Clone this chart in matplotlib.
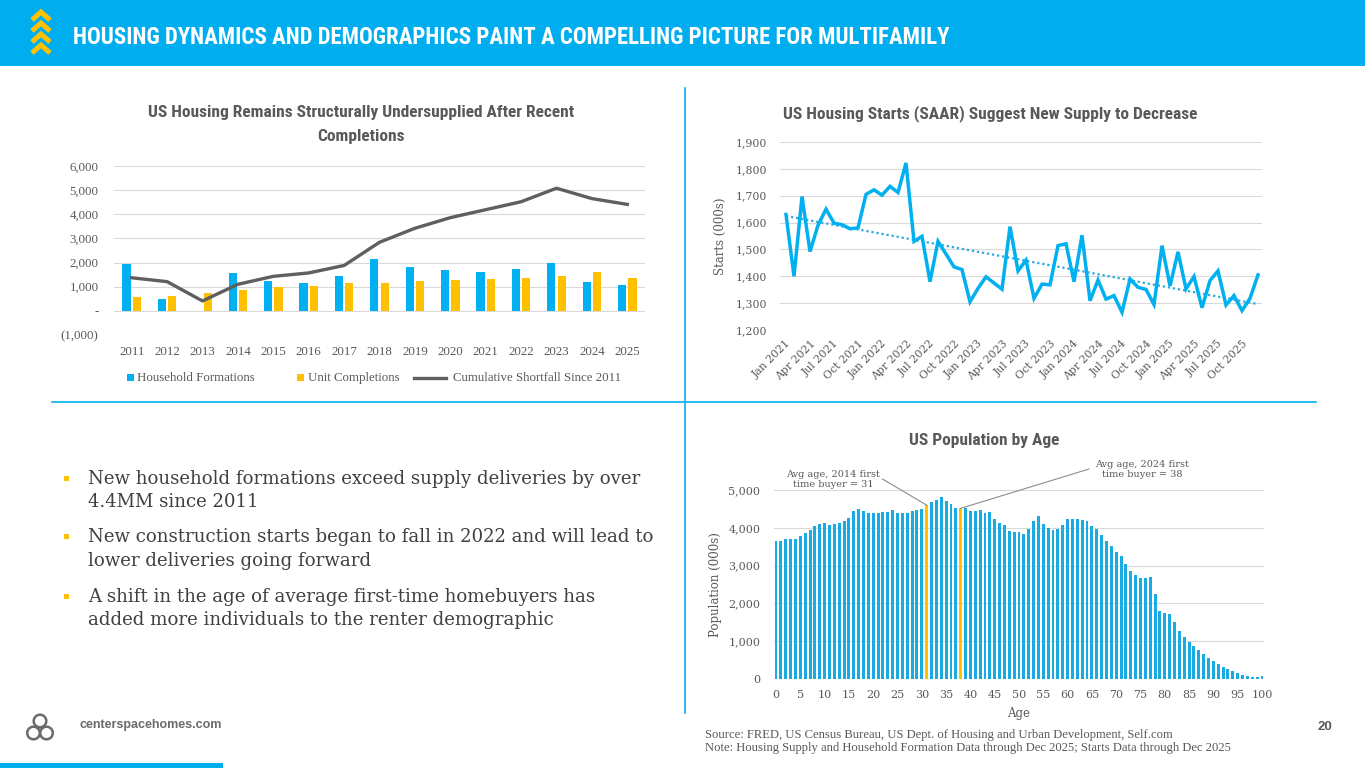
import matplotlib
matplotlib.use("Agg")
import matplotlib.pyplot as plt
import numpy as np
from matplotlib import font_manager
from matplotlib.patches import Rectangle, Circle

BLUE = "#00AEEF"
BAR_BLUE = "#00B0F0"
POP_BLUE = "#1AABE2"
GOLD = "#FFC000"
GRAY = "#595959"
TEXT = "#404040"
GRID = "#D9D9D9"

installed = {f.name for f in font_manager.fontManager.ttflist}


def pick(*names):
    for n in names:
        if n in installed:
            return n
    return "DejaVu Sans"


COND = pick("Liberation Sans Narrow", "Roboto Condensed", "DejaVu Sans")
SERIF = pick("Liberation Serif", "DejaVu Serif")
SERIF2 = pick("DejaVu Serif", "Liberation Serif")
SANS = pick("Liberation Sans", "DejaVu Sans")

#---------------------------------------
# Data
#---------------------------------------
years = [2011, 2012, 2013, 2014, 2015, 2016, 2017, 2018, 2019, 2020, 2021, 2022, 2023, 2024, 2025]
household_formations = [1930, 510, 0, 1570, 1240, 1170, 1460, 2150, 1830, 1710, 1630, 1720, 1990, 1210, 1090]
unit_completions = [580, 630, 760, 870, 980, 1050, 1140, 1170, 1240, 1280, 1340, 1380, 1430, 1610, 1350]
cumulative_shortfall = [1370, 1210, 410, 1100, 1430, 1570, 1880, 2840, 3420, 3860, 4190, 4520, 5080, 4650, 4410]
shortfall_ticks = [-1000, 0, 1000, 2000, 3000, 4000, 5000, 6000]
shortfall_tick_labels = ["(1,000)", "-", "1,000", "2,000", "3,000", "4,000", "5,000", "6,000"]

# monthly housing starts, Jan 2021 - Dec 2025 (000s, SAAR)
housing_starts = [1630, 1400, 1697, 1492, 1590, 1650, 1598, 1592, 1577, 1580, 1705, 1722,
                  1702, 1735, 1712, 1822, 1530, 1549, 1380, 1530, 1483, 1435, 1425, 1305,
                  1355, 1398, 1375, 1352, 1585, 1420, 1460, 1318, 1371, 1368, 1514, 1521,
                  1380, 1553, 1309, 1386, 1315, 1328, 1266, 1390, 1359, 1351, 1295, 1514,
                  1364, 1491, 1353, 1399, 1283, 1384, 1420, 1293, 1328, 1272, 1318, 1405]
starts_tick_labels = ["Jan 2021", "Apr 2021", "Jul 2021", "Oct 2021",
                      "Jan 2022", "Apr 2022", "Jul 2022", "Oct 2022",
                      "Jan 2023", "Apr 2023", "Jul 2023", "Oct 2023",
                      "Jan 2024", "Apr 2024", "Jul 2024", "Oct 2024",
                      "Jan 2025", "Apr 2025", "Jul 2025", "Oct 2025"]
starts_ticks = [1200, 1300, 1400, 1500, 1600, 1700, 1800, 1900]

# population by single year of age, 0-100 (000s)
population = [3650, 3660, 3700, 3700, 3700, 3790, 3850, 3940, 4050, 4110,
              4120, 4070, 4110, 4140, 4190, 4260, 4440, 4490, 4450, 4400,
              4400, 4400, 4410, 4420, 4470, 4380, 4400, 4380, 4440, 4470,
              4510, 4600, 4680, 4740, 4810, 4700, 4630, 4520, 4515, 4515,
              4440, 4440, 4460, 4390, 4410, 4230, 4120, 4070, 3910, 3900,
              3880, 3840, 3980, 4170, 4300, 4110, 3990, 3940, 3980, 4080,
              4220, 4220, 4220, 4200, 4170, 4050, 3970, 3800, 3660, 3530,
              3350, 3250, 3050, 2870, 2750, 2660, 2660, 2710, 2250, 1800,
              1740, 1710, 1520, 1270, 1120, 990, 870, 770, 650, 560,
              470, 400, 320, 260, 200, 170, 115, 90, 60, 45, 80]
ages = list(range(0, 101))
highlight_ages = [31, 38]
pop_ticks = [0, 1000, 2000, 3000, 4000, 5000]

bullets = [
    ("New household formations exceed supply deliveries by over", "4.4MM since 2011"),
    ("New construction starts began to fall in 2022 and will lead to", "lower deliveries going forward"),
    ("A shift in the age of average first-time homebuyers has", "added more individuals to the renter demographic"),
]

#---------------------------------------
# Figure and background layer (pixel coordinates)
#---------------------------------------
W, H = 1365, 768
fig = plt.figure(figsize=(W / 100, H / 100), dpi=100)
fig.patch.set_facecolor("white")
renderer = fig.canvas.get_renderer()

bg = fig.add_axes([0, 0, 1, 1], zorder=-5)
bg.set_xlim(0, W)
bg.set_ylim(H, 0)
bg.axis("off")


def px_axes(l, t, r, b):
    return fig.add_axes([l / W, 1 - b / H, (r - l) / W, (b - t) / H])


def fit(t, width):
    w = t.get_window_extent(renderer).width
    t.set_fontsize(t.get_fontsize() * width / w)
    return t.get_fontsize()


# header band
bg.add_patch(Rectangle((0, 0), W, 66, color=BLUE, lw=0))
for top in [12, 23, 34, 45]:
    bg.plot([32, 41, 50], [top + 8, top, top + 8], color=GOLD, lw=3.6,
            solid_joinstyle="miter", solid_capstyle="butt")
t = bg.text(73, 37, "HOUSING DYNAMICS AND DEMOGRAPHICS PAINT A COMPELLING PICTURE FOR MULTIFAMILY",
            color="white", fontsize=18, fontweight="bold", family=COND, va="center", ha="left")
fit(t, 880)

# divider lines
bg.plot([52, 1316], [402, 402], color=BLUE, lw=1.2)
bg.plot([685, 685], [88, 713], color=BLUE, lw=1.2)

# footer
bg.add_patch(Rectangle((0, 763), 223, 5, color=BLUE, lw=0))
for cx, cy in [(40, 721), (33.5, 733), (46.5, 733)]:
    bg.add_patch(Circle((cx, cy), 6.3, fill=False, ec="#6b6b6b", lw=1.8))
t = bg.text(80, 725, "centerspacehomes.com", color="#6b6b6b", fontsize=9,
            family=SANS, fontweight="bold", va="center", ha="left")
fit(t, 142)
bg.text(1325, 727, "20", color=GRAY, fontsize=9.5, family=SANS, fontweight="bold",
        va="center", ha="center")
t1 = bg.text(705, 735, "Source: FRED, US Census Bureau, US Dept. of Housing and Urban Development, Self.com",
             color=GRAY, fontsize=8, family=SERIF, va="center", ha="left")
fs = fit(t1, 470)
bg.text(705, 748, "Note: Housing Supply and Household Formation Data through Dec 2025; Starts Data through Dec 2025",
        color=GRAY, fontsize=fs, family=SERIF, va="center", ha="left")

# bullets
rows = [(479, 502), (537, 561), (597, 620)]
first = bg.text(88, rows[0][0], bullets[0][0], color=TEXT, fontsize=13, family=SERIF2,
                va="center", ha="left")
bfs = fit(first, 553)
for i, (l1, l2) in enumerate(bullets):
    y1, y2 = rows[i]
    bg.add_patch(Rectangle((64, y1 - 3), 5, 5, color=GOLD, lw=0))
    if i > 0:
        bg.text(88, y1, l1, color=TEXT, fontsize=bfs, family=SERIF2, va="center", ha="left")
    bg.text(88, y2, l2, color=TEXT, fontsize=bfs, family=SERIF2, va="center", ha="left")

# chart titles
t = bg.text(361, 113, "US Housing Remains Structurally Undersupplied After Recent",
            color=GRAY, fontsize=12, fontweight="bold", family=COND, va="center", ha="center")
tfs = fit(t, 426)
bg.text(361, 137, "Completions", color=GRAY, fontsize=tfs, fontweight="bold", family=COND,
        va="center", ha="center")
t = bg.text(990, 114, "US Housing Starts (SAAR) Suggest New Supply to Decrease",
            color=GRAY, fontsize=tfs, fontweight="bold", family=COND, va="center", ha="center")
bg.text(984, 441, "US Population by Age", color=GRAY, fontsize=tfs, fontweight="bold",
        family=COND, va="center", ha="center")

#---------------------------------------
# Chart 1: formations vs completions
#---------------------------------------
ax1 = px_axes(114, 166, 645, 335)
x = np.array(years)
ax1.bar(x - 0.145, household_formations, width=0.23, color=BAR_BLUE, zorder=3)
ax1.bar(x + 0.145, unit_completions, width=0.23, color=GOLD, zorder=3)
ax1.plot(x, cumulative_shortfall, color="#5f5f5f", lw=2.4, zorder=4, solid_joinstyle="round")
ax1.set_xlim(2010.5, 2025.5)
ax1.set_ylim(-1000, 6000)
ax1.set_xticks(years)
ax1.set_xticklabels([str(y) for y in years])
ax1.set_yticks(shortfall_ticks)
ax1.set_yticklabels(shortfall_tick_labels)
for v in shortfall_ticks[1:]:
    ax1.axhline(v, color=GRID, lw=0.8, zorder=1)
for s in ax1.spines.values():
    s.set_visible(False)
ax1.tick_params(length=0, labelsize=9.3, labelcolor=GRAY)
ax1.tick_params(axis="y", pad=11)
ax1.tick_params(axis="x", pad=8)
for lab in ax1.get_xticklabels() + ax1.get_yticklabels():
    lab.set_family(SERIF)

# legend
bg.add_patch(Rectangle((127, 374), 7, 7, color=BAR_BLUE, lw=0))
bg.text(137, 378, "Household Formations", color=GRAY, fontsize=9.3, family=SERIF, va="center")
bg.add_patch(Rectangle((297, 374), 7, 7, color=GOLD, lw=0))
bg.text(308, 378, "Unit Completions", color=GRAY, fontsize=9.3, family=SERIF, va="center")
bg.plot([414, 446], [378, 378], color="#5f5f5f", lw=2.4)
bg.text(453, 378, "Cumulative Shortfall Since 2011", color=GRAY, fontsize=9.3, family=SERIF, va="center")

#---------------------------------------
# Chart 2: housing starts
#---------------------------------------
ax2 = px_axes(780.4, 142, 1262, 330)
months = np.arange(len(housing_starts))
ax2.plot(months, housing_starts, color=BAR_BLUE, lw=2.5, zorder=3, solid_joinstyle="miter")
slope, intercept = np.polyfit(months, housing_starts, 1)
ax2.plot(months, slope * months + intercept, color="#2BA8DE", lw=1.6, ls=(0, (1, 1.3)), zorder=2)
ax2.set_xlim(-0.7, 59.5)
ax2.set_ylim(1200, 1900)
ax2.set_yticks(starts_ticks)
ax2.set_yticklabels([f"{v:,}" for v in starts_ticks])
ax2.set_xticks(range(0, 60, 3))
ax2.set_xticklabels(starts_tick_labels, rotation=45, ha="right", rotation_mode="anchor")
ax2.grid(axis="y", color=GRID, lw=0.8, zorder=0)
for s in ax2.spines.values():
    s.set_visible(False)
ax2.tick_params(length=0, labelsize=7.8, labelcolor=GRAY)
ax2.tick_params(axis="y", pad=9.5)
ax2.tick_params(axis="x", pad=6)
for lab in ax2.get_xticklabels() + ax2.get_yticklabels():
    lab.set_family(SERIF2)
ax2.set_ylabel("Starts (000s)", family=SERIF2, fontsize=8.5, color=GRAY)
ax2.yaxis.set_label_coords(-0.11, 0.5)

#---------------------------------------
# Chart 3: population by age
#---------------------------------------
ax3 = px_axes(773.6, 490, 1264.4, 679)
colors = [GOLD if a in highlight_ages else POP_BLUE for a in ages]
ax3.bar(ages, population, width=0.6, color=colors, zorder=3)
ax3.set_xlim(-0.5, 100.5)
ax3.set_ylim(0, 5000)
ax3.set_xticks(range(0, 101, 5))
ax3.set_yticks(pop_ticks)
ax3.set_yticklabels([f"{v:,}" for v in pop_ticks])
ax3.grid(axis="y", color=GRID, lw=0.8, zorder=0)
for s in ax3.spines.values():
    s.set_visible(False)
ax3.tick_params(length=0, labelsize=8, labelcolor=GRAY)
ax3.tick_params(axis="y", pad=9.5)
ax3.tick_params(axis="x", pad=8)
for lab in ax3.get_xticklabels() + ax3.get_yticklabels():
    lab.set_family(SERIF2)
ax3.set_ylabel("Population (000s)", family=SERIF2, fontsize=8.5, color=GRAY)
ax3.yaxis.set_label_coords(-0.105, 0.5)
ax3.set_xlabel("Age", family=SERIF2, fontsize=8.5, color=GRAY)
ax3.xaxis.set_label_coords(0.5, -0.15)

ax3.text(11.8, 5280, "Avg age, 2014 first\ntime buyer = 31", ha="center", va="center",
         family=SERIF2, fontsize=7, color=GRAY, linespacing=1.15, clip_on=False)
ax3.plot([21.9, 31], [5290, 4600], color="#8c8c8c", lw=0.8, clip_on=False, zorder=4)
ax3.text(75.3, 5530, "Avg age, 2024 first\ntime buyer = 38", ha="center", va="center",
         family=SERIF2, fontsize=7, color=GRAY, linespacing=1.15, clip_on=False)
ax3.plot([64.4, 38], [5555, 4515], color="#8c8c8c", lw=0.8, clip_on=False, zorder=4)

fig.savefig("out.png", dpi=100, facecolor="white")
